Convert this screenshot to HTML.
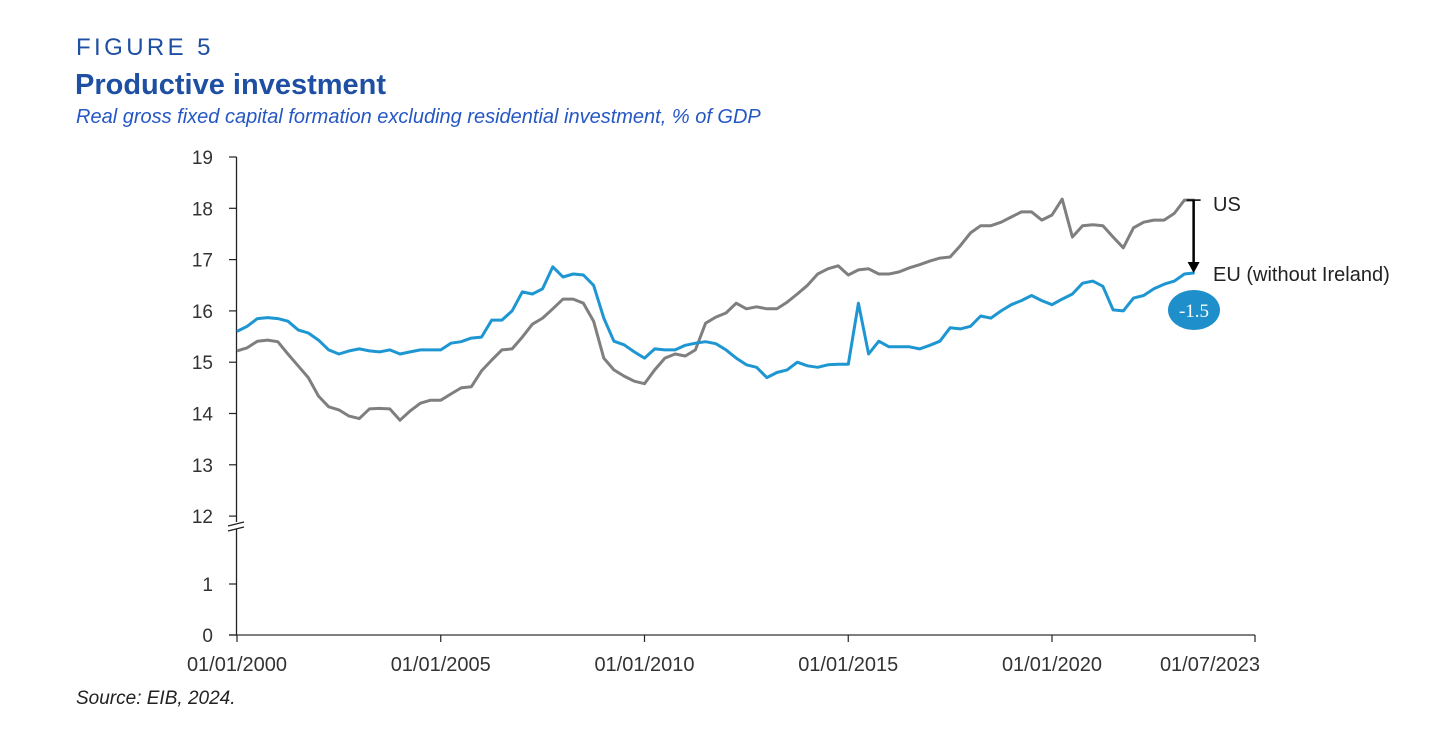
<!DOCTYPE html>
<html><head><meta charset="utf-8">
<style>
body{margin:0;background:#fff;width:1456px;height:736px;overflow:hidden;font-family:"Liberation Sans",sans-serif;}
.t1{position:absolute;left:76px;top:34px;font-size:24px;letter-spacing:3.4px;color:#1f4fa3;}
.t2{position:absolute;left:75px;top:69px;font-size:29px;font-weight:bold;color:#1f4fa3;}
.t3{position:absolute;left:76px;top:106px;font-size:20px;font-style:italic;color:#2557c4;}
.src{position:absolute;left:76px;top:688px;font-size:19px;font-style:italic;color:#222;}
svg{position:absolute;left:0;top:0;}
</style></head><body>
<div class="t1">FIGURE 5</div>
<div class="t2">Productive investment</div>
<div class="t3">Real gross fixed capital formation excluding residential investment, % of GDP</div>
<div class="src">Source: EIB, 2024.</div>
<svg id="chart" width="1456" height="736"></svg>
<script>
const eu=[15.6,15.7,15.85,15.87,15.85,15.8,15.63,15.57,15.43,15.24,15.16,15.22,15.26,15.22,15.2,15.24,15.16,15.2,15.24,15.24,15.24,15.37,15.4,15.47,15.49,15.82,15.82,16.0,16.37,16.33,16.43,16.86,16.66,16.72,16.7,16.5,15.86,15.41,15.34,15.2,15.08,15.26,15.24,15.24,15.33,15.37,15.4,15.36,15.24,15.08,14.95,14.9,14.7,14.8,14.85,15.0,14.93,14.9,14.95,14.96,14.96,16.15,15.16,15.41,15.3,15.3,15.3,15.26,15.33,15.41,15.67,15.65,15.7,15.9,15.86,16.0,16.12,16.2,16.3,16.2,16.12,16.23,16.33,16.54,16.58,16.48,16.02,16.0,16.25,16.3,16.43,16.52,16.58,16.72,16.74];
const us=[15.22,15.28,15.41,15.43,15.4,15.16,14.93,14.7,14.34,14.13,14.07,13.95,13.9,14.09,14.1,14.09,13.87,14.05,14.2,14.26,14.26,14.38,14.5,14.52,14.83,15.04,15.24,15.26,15.49,15.74,15.86,16.04,16.23,16.23,16.15,15.8,15.08,14.85,14.73,14.63,14.58,14.85,15.08,15.16,15.12,15.24,15.76,15.88,15.96,16.15,16.04,16.08,16.04,16.04,16.17,16.33,16.5,16.72,16.82,16.88,16.7,16.8,16.82,16.72,16.72,16.76,16.84,16.9,16.97,17.03,17.05,17.27,17.52,17.66,17.66,17.73,17.83,17.93,17.93,17.77,17.87,18.18,17.44,17.66,17.68,17.66,17.44,17.23,17.62,17.73,17.77,17.77,17.9,18.16,18.16];
const yTicksUpper=[12,13,14,15,16,17,18,19];
const yTicksLower=[0,1];
const xLabels=["01/01/2000","01/01/2005","01/01/2010","01/01/2015","01/01/2020","01/07/2023"];
const xLabelYears=[2000,2005,2010,2015,2020,2023.5];
const gap=eu[eu.length-1]-us[us.length-1];

const S=document.getElementById('chart');const NS='http://www.w3.org/2000/svg';
function el(t,a,p){const e=document.createElementNS(NS,t);for(const k in a)e.setAttribute(k,a[k]);(p||S).appendChild(e);return e;}
const X0=237, PXY=40.75;
function xq(i){return X0+i*PXY/4;}
function xy(yr){return X0+(yr-2000)*PXY;}
function yU(v){return 157+(19-v)*51.3;}
function yL(v){return 635-v*51;}
const AX=236.5;
let a=el('line',{x1:AX,y1:157,x2:AX,y2:522,stroke:'#222','stroke-width':1.3});

a=el('line',{x1:AX,y1:529,x2:AX,y2:635,stroke:'#222','stroke-width':1.3});

a=el('path',{d:'M228,526 L244,522 M228,531 L244,527',stroke:'#222','stroke-width':1.2,fill:'none'});

a=el('line',{x1:229,y1:635,x2:1255,y2:635,stroke:'#333','stroke-width':1.3});

yTicksUpper.forEach(v=>{const y=yU(v);el('line',{x1:229,y1:y,x2:AX,y2:y,stroke:'#222','stroke-width':1.2});
 const t=el('text',{x:213,y:y+7,'text-anchor':'end','font-size':19,fill:'#333','font-family':'Liberation Sans'});t.textContent=v;
 });
yTicksLower.forEach(v=>{const y=yL(v);el('line',{x1:229,y1:y,x2:AX,y2:y,stroke:'#222','stroke-width':1.2});
 const t=el('text',{x:213,y:y+7,'text-anchor':'end','font-size':19,fill:'#333','font-family':'Liberation Sans'});t.textContent=v;
 });
xLabels.forEach((l,i)=>{const x=xy(xLabelYears[i]);const tx=i==xLabels.length-1?1210:x;
 if(i<xLabels.length-1)el('line',{x1:x,y1:635,x2:x,y2:642,stroke:'#222','stroke-width':1.2});
 const t=el('text',{x:tx,y:671,'text-anchor':'middle','font-size':20,fill:'#333','font-family':'Liberation Sans'});t.textContent=l;
 });
el('line',{x1:1255,y1:635,x2:1255,y2:642,stroke:'#222','stroke-width':1.2});
function path(d){return d.map((v,i)=>(i?'L':'M')+xq(i).toFixed(1)+','+yU(v).toFixed(1)).join(' ');}
const pu=el('path',{d:path(us),fill:'none',stroke:'#7f7f7f','stroke-width':3,'stroke-linejoin':'round'});

const pe=el('path',{d:path(eu),fill:'none',stroke:'#1e96d2','stroke-width':3,'stroke-linejoin':'round'});

const lx=xq(eu.length-1)-1, yu=yU(us[us.length-1]), ye=yU(eu[eu.length-1]);
const g=el('g',{});
el('line',{x1:lx-7,y1:yu,x2:lx+7,y2:yu,stroke:'#000','stroke-width':1.5},g);
el('line',{x1:lx,y1:yu,x2:lx,y2:ye-8,stroke:'#000','stroke-width':2.5},g);
el('path',{d:`M${lx-6},${ye-11} L${lx+6},${ye-11} L${lx},${ye} Z`,fill:'#000'},g);
let t=el('text',{x:1213,y:yu+11,'font-size':20,fill:'#222','font-family':'Liberation Sans'});t.textContent='US';

t=el('text',{x:1213,y:ye+8,'font-size':20,fill:'#222','font-family':'Liberation Sans'});t.textContent='EU (without Ireland)';

const b=el('ellipse',{cx:1194,cy:310,rx:26,ry:20,fill:'#1e8fcb'});

t=el('text',{x:1194,y:317,'text-anchor':'middle','font-size':19,fill:'#fff','font-family':'Liberation Serif'});
t.textContent=(Math.round(gap*2)/2).toFixed(1);

</script>
</body></html>
